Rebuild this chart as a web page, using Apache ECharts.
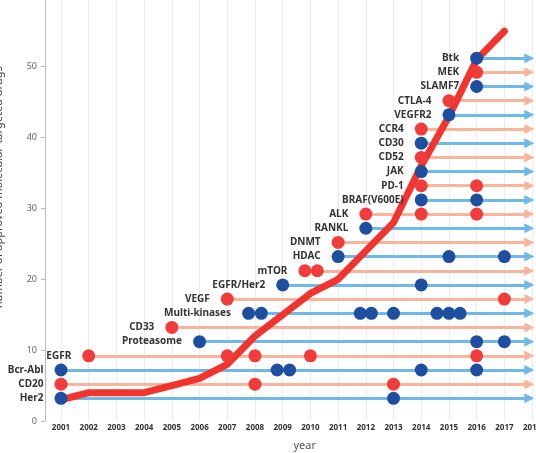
<!DOCTYPE html>
<html>
<head>
    <meta charset="utf-8">
    <title>approved drugs</title>
    <script type="text/javascript" src="https://cdn.jsdelivr.net/npm/echarts@6/dist/echarts.min.js"></script>
</head>
<body style="margin:0;">
<div id="main" style="width: 536px; height: 453px;"></div>
<script type="text/javascript">
    // tick labels on the year axis
    var years = [2001, 2002, 2003, 2004, 2005, 2006, 2007, 2008, 2009, 2010, 2011, 2012, 2013, 2014, 2015, 2016, 2017, 2018];

    // cumulative number of approved drugs, 2001..2017
    var countYears = [2001, 2002, 2003, 2004, 2005, 2006, 2007, 2008, 2009, 2010, 2011, 2012, 2013, 2014, 2015, 2016, 2017];
    var counts = [3, 4, 4, 4, 5, 6, 8, 12, 15, 18, 20, 24, 28, 36, 43, 51, 55];

    // targets from bottom to top, 'b' = blue row, 'r' = red row
    var targets = ['Her2', 'CD20', 'Bcr-Abl', 'EGFR', 'Proteasome', 'CD33', 'Multi-kinases', 'VEGF',
        'EGFR/Her2', 'mTOR', 'HDAC', 'DNMT', 'RANKL', 'ALK', 'BRAF(V600E)', 'PD-1', 'JAK', 'CD52',
        'CD30', 'CCR4', 'VEGFR2', 'CTLA-4', 'SLAMF7', 'MEK', 'Btk'];
    var kinds = ['b', 'r', 'b', 'r', 'b', 'r', 'b', 'r', 'b', 'r', 'b', 'r', 'b', 'r', 'b', 'r', 'b', 'r',
        'b', 'r', 'b', 'r', 'b', 'r', 'b'];

    // approval dates per target (decimal year)
    var approvals = [
        [2001, 2013],
        [2001, 2008, 2013],
        [2001, 2008.8, 2009.25, 2014, 2016],
        [2002, 2007, 2008, 2010, 2016],
        [2006, 2016, 2017],
        [2005],
        [2007.77, 2008.23, 2011.8, 2012.2, 2013, 2014.57, 2015, 2015.4],
        [2007, 2017],
        [2009, 2014],
        [2009.8, 2010.25],
        [2011, 2015, 2017],
        [2011],
        [2012],
        [2012, 2014, 2016],
        [2014, 2016],
        [2014, 2016],
        [2014],
        [2014],
        [2014],
        [2014],
        [2015],
        [2015],
        [2016],
        [2016],
        [2016]
    ];

    var arrowEnd = 2017.9;

    var dotColor = {b: '#1d4e9f', r: '#f23b3b'};
    var lineColor = {b: '#6fb9e8', r: '#f9b59c'};

    var dots = [];
    var arrows = [];
    for (var i = 0; i < targets.length; i++) {
        var k = kinds[i];
        for (var j = 0; j < approvals[i].length; j++) {
            dots.push({
                value: [approvals[i][j], i],
                itemStyle: {color: dotColor[k], opacity: 1},
                label: {show: j === 0, formatter: targets[i]}
            });
        }
        arrows.push({
            coords: [[approvals[i][0], i], [arrowEnd, i]],
            lineStyle: {color: lineColor[k]}
        });
    }

    var countData = [];
    for (var n = 0; n < countYears.length; n++) {
        countData.push([countYears[n], counts[n]]);
    }

    var chart = echarts.init(document.getElementById('main'));
    var option = {
        animation: false,
        textStyle: {fontFamily: 'Noto Sans'},
        grid: {
            left: 45,
            right: -4.4,
            top: -46.7,
            bottom: 32,
            outerBoundsMode: 'none',
            containLabel: false
        },
        xAxis: {
            type: 'value',
            min: 2000.4226,
            max: 2018.3,
            name: 'year',
            nameLocation: 'middle',
            nameGap: 19,
            nameTextStyle: {fontSize: 11, color: '#555', padding: [0, 0, 0, 24]},
            axisLine: {show: false},
            axisTick: {show: false, customValues: years},
            axisLabel: {
                customValues: years,
                formatter: function (v) { return String(v); },
                margin: 3,
                fontSize: 8,
                fontWeight: 'bold',
                color: '#333'
            },
            splitLine: {show: true, lineStyle: {color: '#ebebeb', width: 1}}
        },
        yAxis: [{
            type: 'value',
            min: 0,
            max: 66,
            interval: 10,
            name: 'number of approved molecular-targeted drugs',
            nameLocation: 'middle',
            nameGap: 41,
            nameTextStyle: {fontSize: 11, color: '#444'},
            axisLine: {show: true, lineStyle: {color: '#bbb'}},
            axisTick: {show: true, length: 4, lineStyle: {color: '#bbb'}},
            axisLabel: {fontSize: 9, color: '#666', margin: 8},
            splitLine: {show: false}
        }, {
            type: 'value',
            min: -1.6,
            max: 31.4,
            show: false
        }],
        series: [{
            type: 'lines',
            coordinateSystem: 'cartesian2d',
            xAxisIndex: 0,
            yAxisIndex: 1,
            symbol: ['none', 'triangle'],
            symbolSize: 10,
            lineStyle: {width: 3, opacity: 1},
            data: arrows,
            z: 1
        }, {
            type: 'line',
            xAxisIndex: 0,
            yAxisIndex: 0,
            data: countData,
            symbol: 'none',
            lineStyle: {color: '#f2342f', width: 7, cap: 'round', join: 'round'},
            z: 2
        }, {
            type: 'scatter',
            xAxisIndex: 0,
            yAxisIndex: 1,
            symbolSize: 13,
            data: dots,
            label: {
                position: 'left',
                distance: 11,
                fontSize: 10,
                fontWeight: 'bold',
                color: '#333'
            },
            z: 3
        }]
    };
    chart.setOption(option);
</script>
</body>
</html>
